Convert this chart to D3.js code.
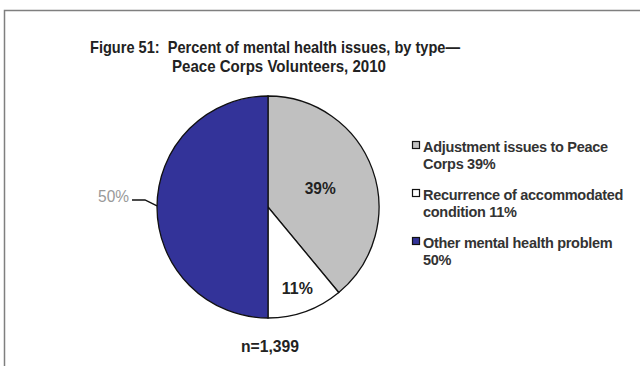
<!DOCTYPE html>
<html><head><meta charset="utf-8">
<script src="https://cdn.jsdelivr.net/npm/d3@7"></script>
<style>body{margin:0;background:#fff}svg{display:block;font-family:Arial,"Liberation Sans",sans-serif}</style>
</head><body>
<svg id="c" width="640" height="366"></svg>
<script>
const categories = ["Adjustment issues to Peace Corps", "Recurrence of accommodated condition", "Other mental health problem"];
const values = [39, 11, 50];
const colors = ["#C0C0C0", "#FFFFFF", "#333399"];
const legendLines = [["Adjustment issues to Peace", "Corps 39%"], ["Recurrence of accommodated", "condition 11%"], ["Other mental health problem", "50%"]];
const titleLines = ["Figure 51:\u00a0 Percent of mental health issues, by type\u2014", "Peace Corps Volunteers, 2010"];
const note = "n=1,399";

const svg = d3.select("#c");
// frame
svg.append("path").attr("d","M4.5,366 V10.5 H640").attr("fill","none").attr("stroke","#7f7f7f").attr("stroke-width",1.5);

const titleW = [370, 214];
svg.selectAll("text.title").data(titleLines).join("text")
  .attr("x",(d,i)=>i===0?275:279).attr("y",(d,i)=>53+i*19).attr("text-anchor","middle")
  .attr("font-size",16.5).attr("font-weight","bold").attr("fill","#222")
  .attr("textLength",(d,i)=>titleW[i]).attr("lengthAdjust","spacingAndGlyphs").text(d=>d);

const cx=268, cy=207, r=111;
const pie = d3.pie().sort(null)(values);
const arc = d3.arc().innerRadius(0).outerRadius(r);
const g = svg.append("g").attr("transform",`translate(${cx},${cy})`);
g.selectAll("path").data(pie).join("path").attr("d",arc)
  .attr("fill",(d,i)=>colors[i]).attr("stroke","#111").attr("stroke-width",1.3);

// inside labels for first two slices
const inLab = [ {i:0, rad:0.50}, {i:1, rad:0.78} ];
inLab.forEach(o=>{
  const a = d3.arc().innerRadius(r*o.rad).outerRadius(r*o.rad);
  const [x,y]=a.centroid(pie[o.i]);
  g.append("text").attr("x",x).attr("y",y+6).attr("text-anchor","middle")
   .attr("font-size",16).attr("font-weight","bold").attr("fill","#222")
   .attr("textLength",31).attr("lengthAdjust","spacingAndGlyphs").text(values[o.i]+"%");
});
// outside label for the 50% slice
{
  const ang = (pie[2].startAngle+pie[2].endAngle)/2 + 0.01;
  const px = r*Math.sin(ang), py = -r*Math.cos(ang);
  g.append("path").attr("d",`M${px},${py} L${px-12},${py-6} L${px-25},${py-6}`)
   .attr("fill","none").attr("stroke","#111").attr("stroke-width",1.5);
  g.append("text").attr("x",px-28).attr("y",py-4).attr("text-anchor","end")
   .attr("font-size",16).attr("fill","#999").attr("textLength",31).attr("lengthAdjust","spacingAndGlyphs").text(values[2]+"%");
}

svg.append("text").attr("x",270).attr("y",352).attr("text-anchor","middle")
  .attr("font-size",16).attr("font-weight","bold").attr("fill","#222")
  .attr("textLength",58).attr("lengthAdjust","spacingAndGlyphs").text(note);

// legend
const lg = svg.append("g");
legendLines.forEach((lines,i)=>{
  const y0 = 152 + i*48;
  lg.append("rect").attr("x",412.5).attr("y",y0-10.5).attr("width",7).attr("height",7)
    .attr("fill",colors[i]).attr("stroke","#111").attr("stroke-width",1.2);
  lines.forEach((t,j)=>{
    lg.append("text").attr("x",423).attr("y",y0+j*16.5).attr("font-size",14.5)
      .attr("font-weight","bold").attr("fill","#333").attr("letter-spacing",-0.3).text(t);
  });
});
</script>
</body></html>
